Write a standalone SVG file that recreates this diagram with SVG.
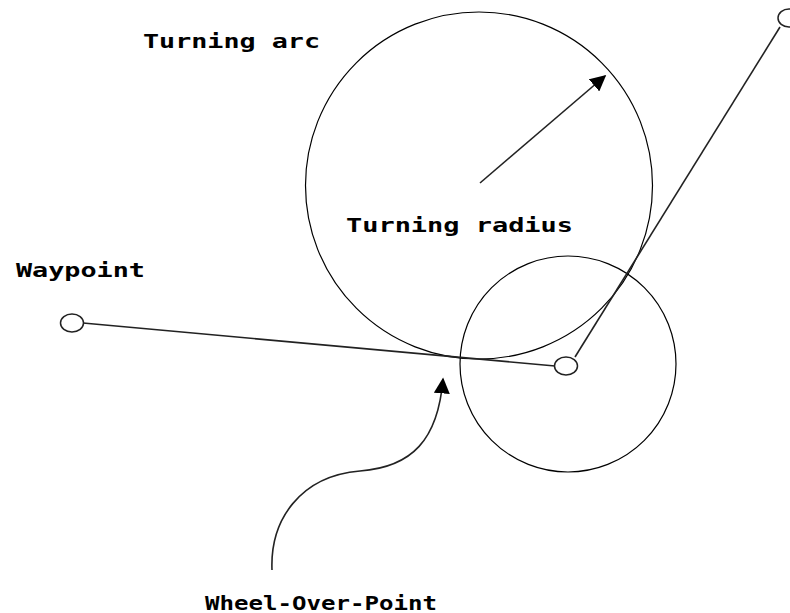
<svg xmlns="http://www.w3.org/2000/svg" width="790" height="613" viewBox="0 0 790 613">
<style>
.c{fill:none;stroke:#000;stroke-width:1.2}
.l{fill:none;stroke:#222;stroke-width:1.6}
.w{fill:#fff;stroke:#222;stroke-width:1.5}
.t{font-family:"DejaVu Sans Mono","Liberation Mono",monospace;font-weight:bold;font-size:19px;fill:#000}
</style>
<defs>
<marker id="ah2" viewBox="0 0 10 10" refX="9" refY="5" markerWidth="16" markerHeight="16" markerUnits="userSpaceOnUse" orient="auto">
<path d="M0,0L10,5L0,10z" fill="#000"/>
</marker>
</defs>
<rect width="790" height="613" fill="#fff"/>
<g id="turning-arc"><circle class="c" cx="479" cy="185.5" r="173.5"/></g>
<g id="wheel-circle"><circle class="c" cx="568" cy="364" r="108"/></g>
<g id="connectors">
<line class="l" x1="83" y1="323" x2="555" y2="366"/>
<line class="l" x1="575" y1="357" x2="780" y2="27"/>
<line class="l" x1="480" y1="183" x2="605" y2="76" marker-end="url(#ah2)"/>
<path class="l" d="M272,570 C270,520 300,476 360,471 C412,467 438,440 443,379" marker-end="url(#ah2)"/>
</g>
<g id="waypoint-left"><ellipse class="w" cx="72" cy="323" rx="11.5" ry="9"/></g>
<g id="waypoint-mid"><ellipse class="w" cx="566" cy="366" rx="11.5" ry="9"/></g>
<g id="waypoint-top"><ellipse class="w" cx="789" cy="18" rx="11" ry="9"/></g>
<g id="labels">
<text class="t" x="143" y="48" textLength="177" lengthAdjust="spacingAndGlyphs">Turning arc</text>
<text class="t" x="346" y="232" textLength="227" lengthAdjust="spacingAndGlyphs">Turning radius</text>
<text class="t" x="16" y="277" textLength="129" lengthAdjust="spacingAndGlyphs">Waypoint</text>
<text class="t" x="205" y="610" textLength="232" lengthAdjust="spacingAndGlyphs">Wheel-Over-Point</text>
</g>
</svg>
